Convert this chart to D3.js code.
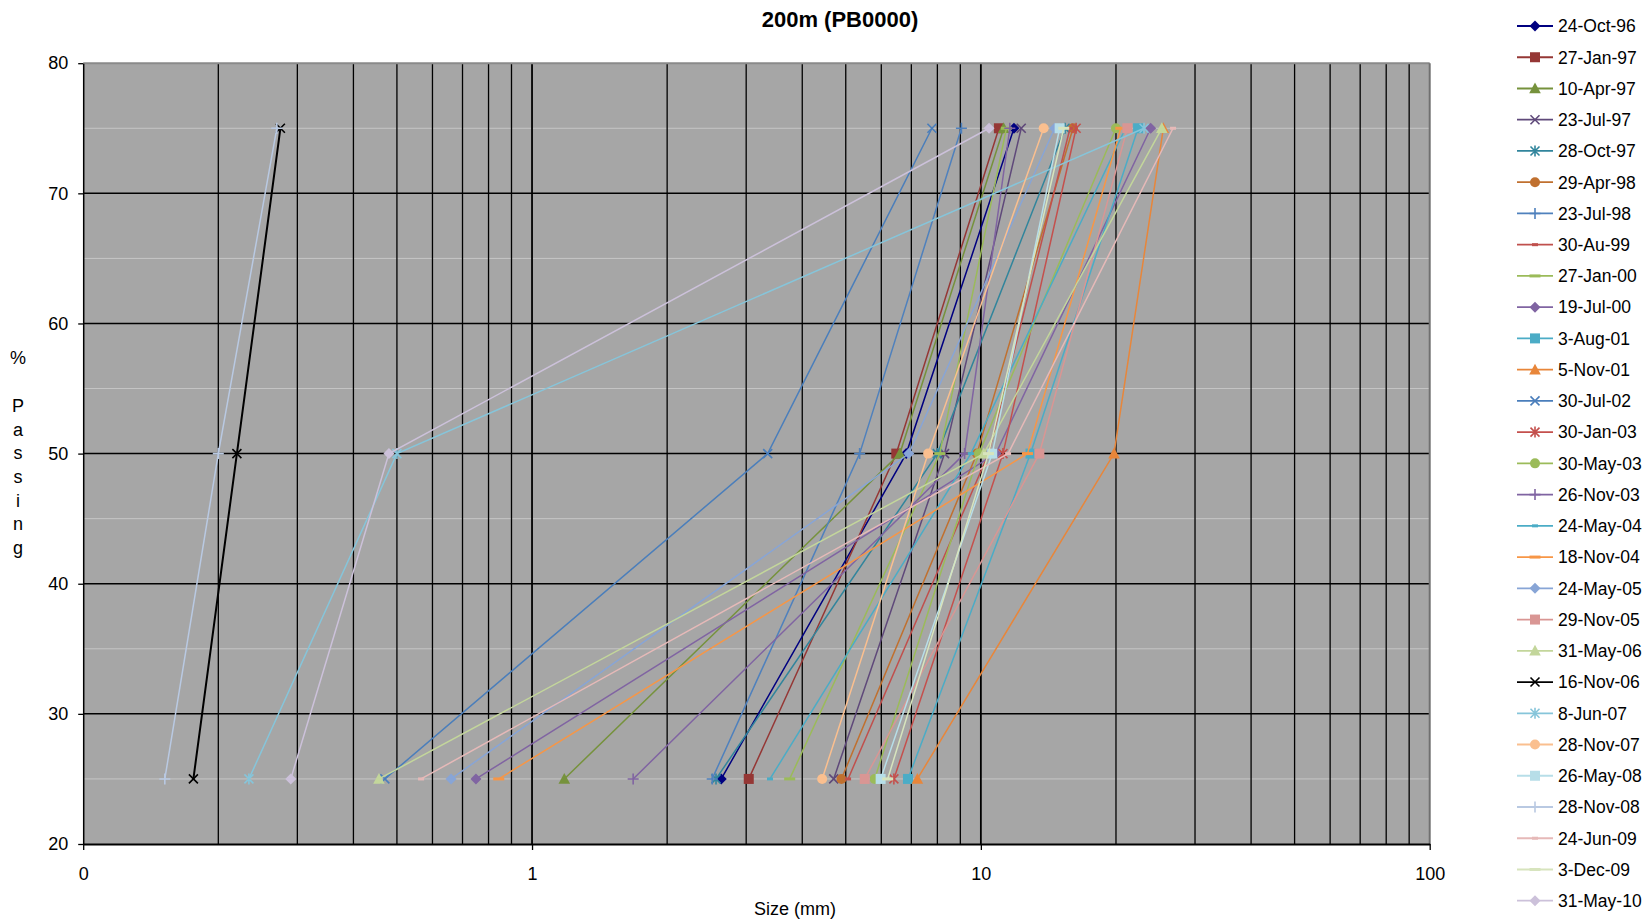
<!DOCTYPE html>
<html>
<head>
<meta charset="utf-8">
<script src="https://cdn.jsdelivr.net/npm/d3@7"></script>
<style>
  body { margin: 0; background: #ffffff; }
  text { font-family: "Liberation Sans", Arial, Helvetica, sans-serif; fill: #000; }
</style>
</head>
<body>
<svg id="chart" width="1652" height="924"></svg>
<script>
// Percent passing levels measured for each sample
const passing = [25, 50, 75];

// Sample dates (one curve each)
const dates = ["24-Oct-96","27-Jan-97","10-Apr-97","23-Jul-97","28-Oct-97","29-Apr-98","23-Jul-98",
  "30-Au-99","27-Jan-00","19-Jul-00","3-Aug-01","5-Nov-01","30-Jul-02","30-Jan-03","30-May-03",
  "26-Nov-03","24-May-04","18-Nov-04","24-May-05","29-Nov-05","31-May-06","16-Nov-06","8-Jun-07",
  "28-Nov-07","26-May-08","28-Nov-08","24-Jun-09","3-Dec-09","31-May-10"];

// Grain size (mm) at 25 %, 50 % and 75 % passing, same order as dates
const size25 = [2.64, 3.04, 1.18, 4.70, 2.57, 4.89, 2.52, 5.06, 3.75, 0.75, 6.88, 7.22, 0.47, 6.40, 5.80,
  1.68, 3.39, 0.843, 0.66, 5.51, 0.456, 0.176, 0.234, 4.43, 5.98, 0.152, 0.566, 6.20, 0.29];
const size50 = [6.82, 6.48, 6.60, 8.30, 8.00, 9.80, 5.37, 10.4, 8.10, 10.8, 12.9, 19.8, 3.35, 11.2, 9.90,
  9.20, 9.50, 12.7, 6.91, 13.5, 10.15, 0.22, 0.50, 7.63, 10.6, 0.20, 11.5, 10.4, 0.48];
const size75 = [11.85, 10.97, 11.24, 12.3, 15.4, 16.04, 9.05, 15.8, 11.4, 23.9, 22.4, 25.5, 7.78, 16.3, 20.0,
  11.6, 21.0, 20.5, 14.6, 21.2, 25.3, 0.275, 23.1, 13.8, 14.98, 0.27, 26.8, 15.3, 10.43];

// Axis ticks
const xTicks = [0.1, 1, 10, 100];
const xTickLabels = ["0", "1", "10", "100"];
const yTicks = [20, 30, 40, 50, 60, 70, 80];

// Series styling
const colors = ["#000080","#953735","#76923c","#5f497a","#31859c","#c0702f","#4f81bd",
  "#c0504d","#9bbb59","#8064a2","#4bacc6","#e8863a","#4a7ebb","#c4504d","#9bbb59",
  "#8064a2","#4bacc6","#f79646","#88a5d6","#d99694","#c3d69b","#000000","#86c5da",
  "#fabf8f","#b7dee8","#b9c9e2","#e6b9b8","#d7e4bd","#ccc1da"];
const markers = ["diamond","square","triangle","x","star","circle","plus","dot","dash",
  "diamond","square","triangle","x","star","circle","plus","dot","dash",
  "diamond","square","triangle","x","star","circle","square","plus","dot","dash","diamond"];

const plot = { left: 83.2, right: 1429.7, top: 63.2, bottom: 844 };
const x = d3.scaleLog().domain([0.1, 100]).range([plot.left, plot.right]);
const y = d3.scaleLinear().domain([20, 80]).range([plot.bottom, plot.top]);

const svg = d3.select("#chart");

// Plot area background
svg.append("rect")
  .attr("x", plot.left).attr("y", plot.top)
  .attr("width", plot.right - plot.left).attr("height", plot.bottom - plot.top)
  .attr("fill", "#a6a6a6");

// Minor horizontal gridlines
svg.append("g").selectAll("line").data(d3.range(25, 80, 10)).join("line")
  .attr("x1", plot.left).attr("x2", plot.right)
  .attr("y1", d => y(d)).attr("y2", d => y(d))
  .attr("stroke", "#c6c6c6").attr("stroke-width", 1);

// Vertical log gridlines
const gridX = [];
[0.1, 1, 10].forEach(dec => d3.range(1, 10).forEach(k => { if (dec * k > 0.1) gridX.push(dec * k); }));
svg.append("g").selectAll("line").data(gridX).join("line")
  .attr("x1", d => x(d)).attr("x2", d => x(d))
  .attr("y1", plot.top).attr("y2", plot.bottom)
  .attr("stroke", "#000")
  .attr("stroke-width", d => (Math.abs(Math.log10(d) - Math.round(Math.log10(d))) < 1e-9) ? 1.8 : 1.3);

// Major horizontal gridlines
svg.append("g").selectAll("line").data(d3.range(30, 80, 10)).join("line")
  .attr("x1", plot.left).attr("x2", plot.right)
  .attr("y1", d => y(d)).attr("y2", d => y(d))
  .attr("stroke", "#000").attr("stroke-width", 1.5);

// Top and right borders
svg.append("line").attr("x1", plot.left).attr("x2", plot.right)
  .attr("y1", y(80)).attr("y2", y(80)).attr("stroke", "#8a8a8a").attr("stroke-width", 2);
svg.append("line").attr("x1", x(100)).attr("x2", x(100))
  .attr("y1", plot.top).attr("y2", plot.bottom).attr("stroke", "#707070").attr("stroke-width", 2);

// Axes
const yAxis = svg.append("g").attr("transform", `translate(${plot.left},0)`)
  .call(d3.axisLeft(y).tickValues(yTicks).tickSizeInner(5).tickSizeOuter(0).tickPadding(10));
yAxis.select(".domain").attr("stroke", "#000").attr("stroke-width", 1.5);
yAxis.selectAll(".tick line").attr("stroke", "#000").attr("stroke-width", 1.3);
yAxis.selectAll(".tick text").style("font-size", "18px").attr("font-family", null);

const xAxis = svg.append("g").attr("transform", `translate(0,${plot.bottom})`)
  .call(d3.axisBottom(x).tickValues(xTicks).tickFormat((d, i) => xTickLabels[i])
    .tickSizeInner(6).tickSizeOuter(0).tickPadding(17));
xAxis.select(".domain").attr("stroke", "#000").attr("stroke-width", 2.2);
xAxis.selectAll(".tick line").attr("stroke", "#000").attr("stroke-width", 1.3);
xAxis.selectAll(".tick text").style("font-size", "18px").attr("font-family", null);

// Marker drawing
function drawMarker(g, type, color, cx, cy) {
  const m = g.append("g").attr("transform", `translate(${cx},${cy})`);
  switch (type) {
    case "diamond":
      m.append("path").attr("d", "M0,-5.5L5.5,0L0,5.5L-5.5,0Z").attr("fill", color); break;
    case "square":
      m.append("rect").attr("x", -5).attr("y", -5).attr("width", 10).attr("height", 10).attr("fill", color); break;
    case "triangle":
      m.append("path").attr("d", "M0,-6L5.8,4.8L-5.8,4.8Z").attr("fill", color); break;
    case "circle":
      m.append("circle").attr("r", 5).attr("fill", color); break;
    case "x":
      m.append("path").attr("d", "M-4.5,-4.5L4.5,4.5M-4.5,4.5L4.5,-4.5")
        .attr("stroke", color).attr("stroke-width", 1.6).attr("fill", "none"); break;
    case "star":
      m.append("path").attr("d", "M-4.5,-4.5L4.5,4.5M-4.5,4.5L4.5,-4.5M0,-5.5L0,5.5")
        .attr("stroke", color).attr("stroke-width", 1.6).attr("fill", "none"); break;
    case "plus":
      m.append("path").attr("d", "M-5.5,0L5.5,0M0,-5.5L0,5.5")
        .attr("stroke", color).attr("stroke-width", 1.6).attr("fill", "none"); break;
    case "dot":
      m.append("rect").attr("x", -3).attr("y", -1.5).attr("width", 6).attr("height", 3).attr("fill", color); break;
    case "dash":
      m.append("rect").attr("x", -5.5).attr("y", -1.5).attr("width", 11).attr("height", 3).attr("fill", color); break;
  }
}

// Curves
const line = d3.line().x(d => x(d.size)).y(d => y(d.p));
const curves = svg.append("g");
dates.forEach((name, i) => {
  const pts = [size25[i], size50[i], size75[i]].map((s, j) => ({ p: passing[j], size: s }));
  const g = curves.append("g");
  g.append("path").datum(pts).attr("d", line)
    .attr("fill", "none").attr("stroke", colors[i])
    .attr("stroke-width", colors[i] === "#000000" ? 2 : 1.5);
  pts.forEach(d => drawMarker(g, markers[i], colors[i], x(d.size), y(d.p)));
});

// Legend
const legend = svg.append("g");
const legStep = 31.24, legTop = 26;
dates.forEach((name, i) => {
  const cy = legTop + i * legStep;
  const g = legend.append("g");
  g.append("line").attr("x1", 1517).attr("x2", 1553).attr("y1", cy).attr("y2", cy)
    .attr("stroke", colors[i]).attr("stroke-width", 1.8);
  drawMarker(g, markers[i], colors[i], 1535, cy);
  g.append("text").attr("x", 1558).attr("y", cy).attr("dy", "0.36em")
    .style("font-size", "17.5px").text(name);
});

// Title
svg.append("text").attr("x", 840).attr("y", 27).attr("text-anchor", "middle")
  .style("font-size", "22px").style("font-weight", "bold").text("200m (PB0000)");

// Axis titles
svg.append("text").attr("x", 795).attr("y", 915).attr("text-anchor", "middle")
  .style("font-size", "18px").text("Size (mm)");

const yTitle = "% Passing".split("");
svg.append("g").selectAll("text").data(yTitle).join("text")
  .attr("x", 18).attr("y", (d, i) => 358 + i * 23.7).attr("dy", "0.36em")
  .attr("text-anchor", "middle").style("font-size", "18px").text(d => d);
</script>
</body>
</html>
